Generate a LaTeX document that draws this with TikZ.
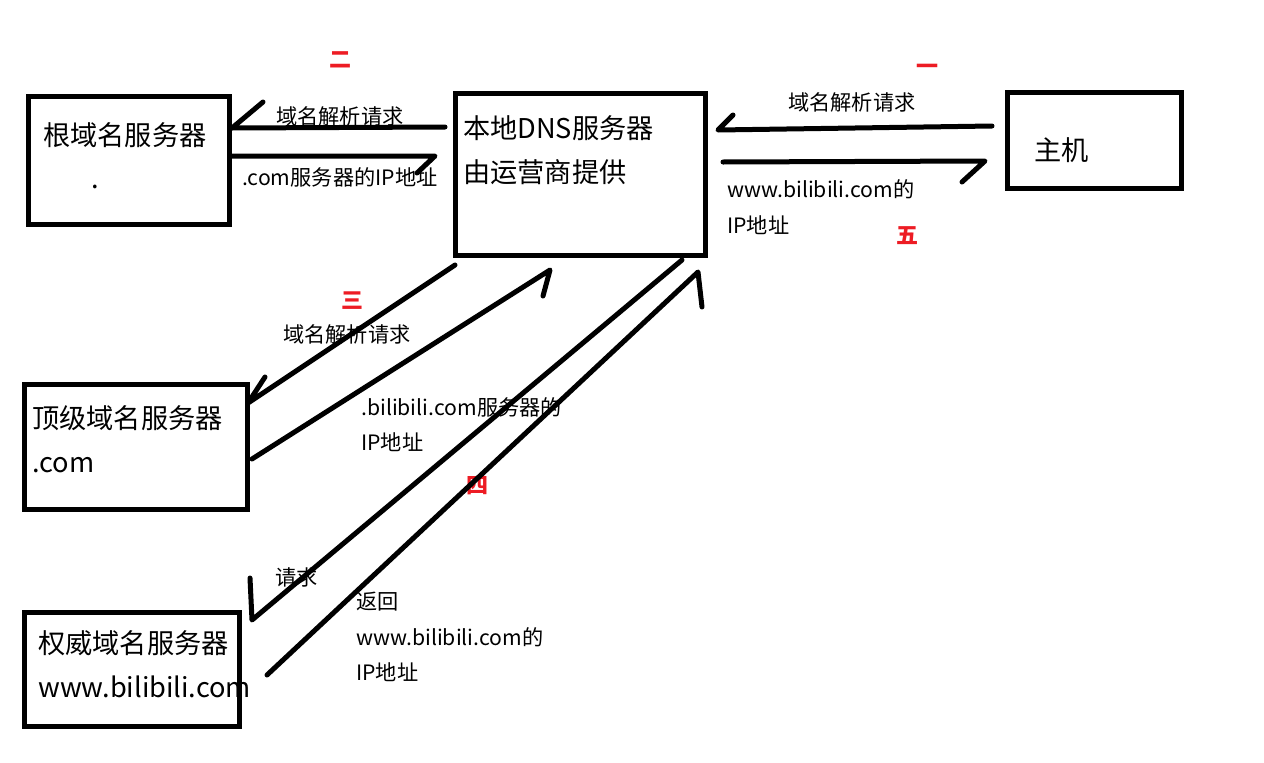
\documentclass[tikz,border=0pt]{standalone}
\usepackage{fontspec}
\setmainfont{Noto Sans CJK SC}
\newfontfamily\cjk{Noto Sans CJK SC}
\definecolor{paintred}{RGB}{237,28,36}
\begin{document}
\begin{tikzpicture}[x=1pt,y=-1pt,
  box/.style={draw=black,line width=5pt,minimum width=#1},
  big/.style={anchor=base west,inner sep=0pt,font=\cjk\fontsize{27.2}{30}\selectfont},
  small/.style={anchor=base west,inner sep=0pt,font=\cjk\fontsize{21.2}{24}\selectfont},
  num/.style={inner sep=0pt,text=paintred,font=\cjk\bfseries\fontsize{22}{24}\selectfont},
  arr/.style={draw=black,line width=5pt,line cap=round,line join=round}]
\useasboundingbox (0,0) rectangle (1264,763);
% boxes
\node[box=201pt,minimum height=128pt] (root) at (128.5,160) {};
\node[box=250pt,minimum height=162pt] (dns) at (580,174) {};
\node[box=174pt,minimum height=96pt] (host) at (1094,140) {};
\node[box=223pt,minimum height=125pt] (tld) at (135.5,446.5) {};
\node[box=215pt,minimum height=114pt] (auth) at (131.5,669) {};
% box texts
\node[big] (rootT) at (43,145) {根域名服务器};
\node[big] (rootD) at (91,188) {.};
\node[big] (dnsT1) at (463,138) {本地DNS服务器};
\node[big] (dnsT2) at (463,182) {由运营商提供};
\node[big] (hostT) at (1034,160) {主机};
\node[big] (tldT1) at (32,428) {顶级域名服务器};
\node[big] (tldT2) at (32,472) {.com};
\node[big] (authT1) at (38,653) {权威域名服务器};
\node[big] (authT2) at (38,697) {www.bilibili.com};
% labels
\node[small] (l1) at (276,124) {域名解析请求};
\node[small] (l2) at (242,185) {.com服务器的IP地址};
\node[small] (l3) at (788,110) {域名解析请求};
\node[small] (l4a) at (727,197) {www.bilibili.com的};
\node[small] (l4b) at (727,233) {IP地址};
\node[small] (l5) at (283,342) {域名解析请求};
\node[small] (l6a) at (361,415) {.bilibili.com服务器的};
\node[small] (l6b) at (361,450) {IP地址};
\node[small] (l7) at (275,585) {请求};
\node[small] (l8a) at (356,609) {返回};
\node[small] (l8b) at (356,645) {www.bilibili.com的};
\node[small] (l8c) at (356,680) {IP地址};
% step numbers
\node[num] (n2) at (340,60) {二};
\node[num] (n1) at (927,69) {一};
\node[num] (n3) at (352,301) {三};
\node[num] (n4) at (477,486) {四};
\node[num] (n5) at (907,236) {五};
% connector coordinates
\coordinate (a1s) at (445,127); \coordinate (a1t) at (232,128); \coordinate (a1h) at (263,102);
\coordinate (a2s) at (231,156); \coordinate (a2t) at (435,156); \coordinate (a2h) at (417,173);
\coordinate (a3s) at (992,126); \coordinate (a3t) at (718,130); \coordinate (a3h) at (733,115);
\coordinate (a4s) at (723,162); \coordinate (a4t) at (985,161); \coordinate (a4h) at (962,182);
\coordinate (a5s) at (455,265); \coordinate (a5t) at (248,403); \coordinate (a5h) at (265,377);
\coordinate (a6s) at (252,459); \coordinate (a6t) at (550,270); \coordinate (a6h) at (543,296);
\coordinate (a7s) at (682,260); \coordinate (a7t) at (252,620); \coordinate (a7h) at (250,578);
\coordinate (a8s) at (267,675); \coordinate (a8t) at (698,272); \coordinate (a8h) at (702,307);
% connectors with hand-drawn one-sided heads
\draw[arr] (a1s) -- (a1t) -- (a1h);
\draw[arr] (a2s) -- (a2t) -- (a2h);
\draw[arr] (a3s) -- (a3t) -- (a3h);
\draw[arr] (a4s) -- (a4t) -- (a4h);
\draw[arr] (a5s) -- (a5t) -- (a5h);
\draw[arr] (a6s) -- (a6t) -- (a6h);
\draw[arr] (a7s) -- (a7t) -- (a7h);
\draw[arr] (a8s) -- (a8t) -- (a8h);
\end{tikzpicture}
\end{document}
